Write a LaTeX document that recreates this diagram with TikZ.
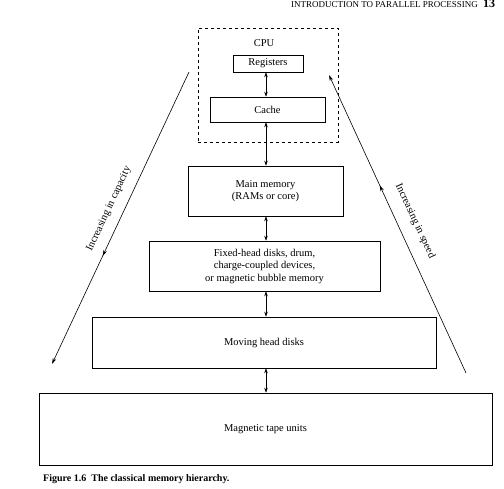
\documentclass[tikz,border=0pt]{standalone}
\usepackage{fontspec}
\setmainfont{Liberation Serif}
\usetikzlibrary{arrows.meta,decorations.markings,calc}
\begin{document}
\begin{tikzpicture}[x=1pt,y=-1pt,
  box/.style={draw, line width=0.6pt, inner sep=0pt, align=center, font=\fontsize{10.5}{12.5}\selectfont},
  dbl/.style={line width=0.6pt, {Stealth[length=5pt,width=3.5pt]}-{Stealth[length=5pt,width=3.5pt]}},
  slant/.style={line width=0.6pt, -{Stealth[length=6pt,width=3.5pt]}, postaction={decorate},
    decoration={markings, mark=at position 0.63 with {\arrow{Stealth[length=6pt,width=3.5pt]}}}},
  lbl/.style={font=\fontsize{10.5}{12.5}\selectfont, inner sep=0pt}]
\useasboundingbox (0,0) rectangle (504,489);
% header
\node[anchor=base east, inner sep=0pt, font=\fontsize{9}{10}\selectfont] (hdr) at (478,8) {INTRODUCTION TO PARALLEL PROCESSING};
\node[anchor=base west, inner sep=0pt, font=\fontsize{12}{14}\selectfont\bfseries] (pg) at (483,8) {13};
% CPU dashed box
\node[draw, dashed, line width=0.6pt, minimum width=140pt, minimum height=114pt, inner sep=0pt] (cpu) at (268,85) {};
\node[lbl] (cpulbl) at (264,43) {CPU};
\node[box, minimum width=70pt, minimum height=17pt] (reg) at (268,63.5) {Registers};
\node[box, minimum width=115pt, minimum height=25pt] (cache) at (267.5,109.5) {Cache};
\node[box, minimum width=155pt, minimum height=50pt] (main) at (265.5,191) {Main memory\\(RAMs or core)};
\node[box, minimum width=231pt, minimum height=50pt] (fixed) at (264.5,266) {Fixed-head disks, drum,\\charge-coupled devices,\\or magnetic bubble memory};
\node[box, minimum width=344pt, minimum height=51pt] (moving) at (264,342.5) {Moving head disks};
\node[box, minimum width=453pt, minimum height=72pt] (tape) at (265.5,429) {Magnetic tape units};
% vertical double arrows
\coordinate (ax) at (266,0);
\draw[dbl] (reg.south -| ax) -- (cache.north -| ax);
\draw[dbl] (cache.south -| ax) -- (main.north -| ax);
\draw[dbl] (main.south -| ax) -- (fixed.north -| ax);
\draw[dbl] (fixed.south -| ax) -- (moving.north -| ax);
\draw[dbl] (moving.south -| ax) -- (tape.north -| ax);
% slanted arrows
\coordinate (ltop) at (189,72);
\coordinate (lbot) at (52,364);
\coordinate (rbot) at (466,373);
\coordinate (rtop) at (329,75);
\draw[slant] (ltop) -- (lbot);
\draw[slant] (rbot) -- (rtop);
\node[lbl, rotate=65] (cap) at (109,209) {Increasing in capacity};
\node[lbl, rotate=-65] (spd) at (415,221) {Increasing in speed};
% caption
\node[anchor=base west, inner sep=0pt, font=\fontsize{10}{12}\selectfont\bfseries] (capt) at (43,482) {Figure 1.6\ \ The classical memory hierarchy.};
\end{tikzpicture}
\end{document}
